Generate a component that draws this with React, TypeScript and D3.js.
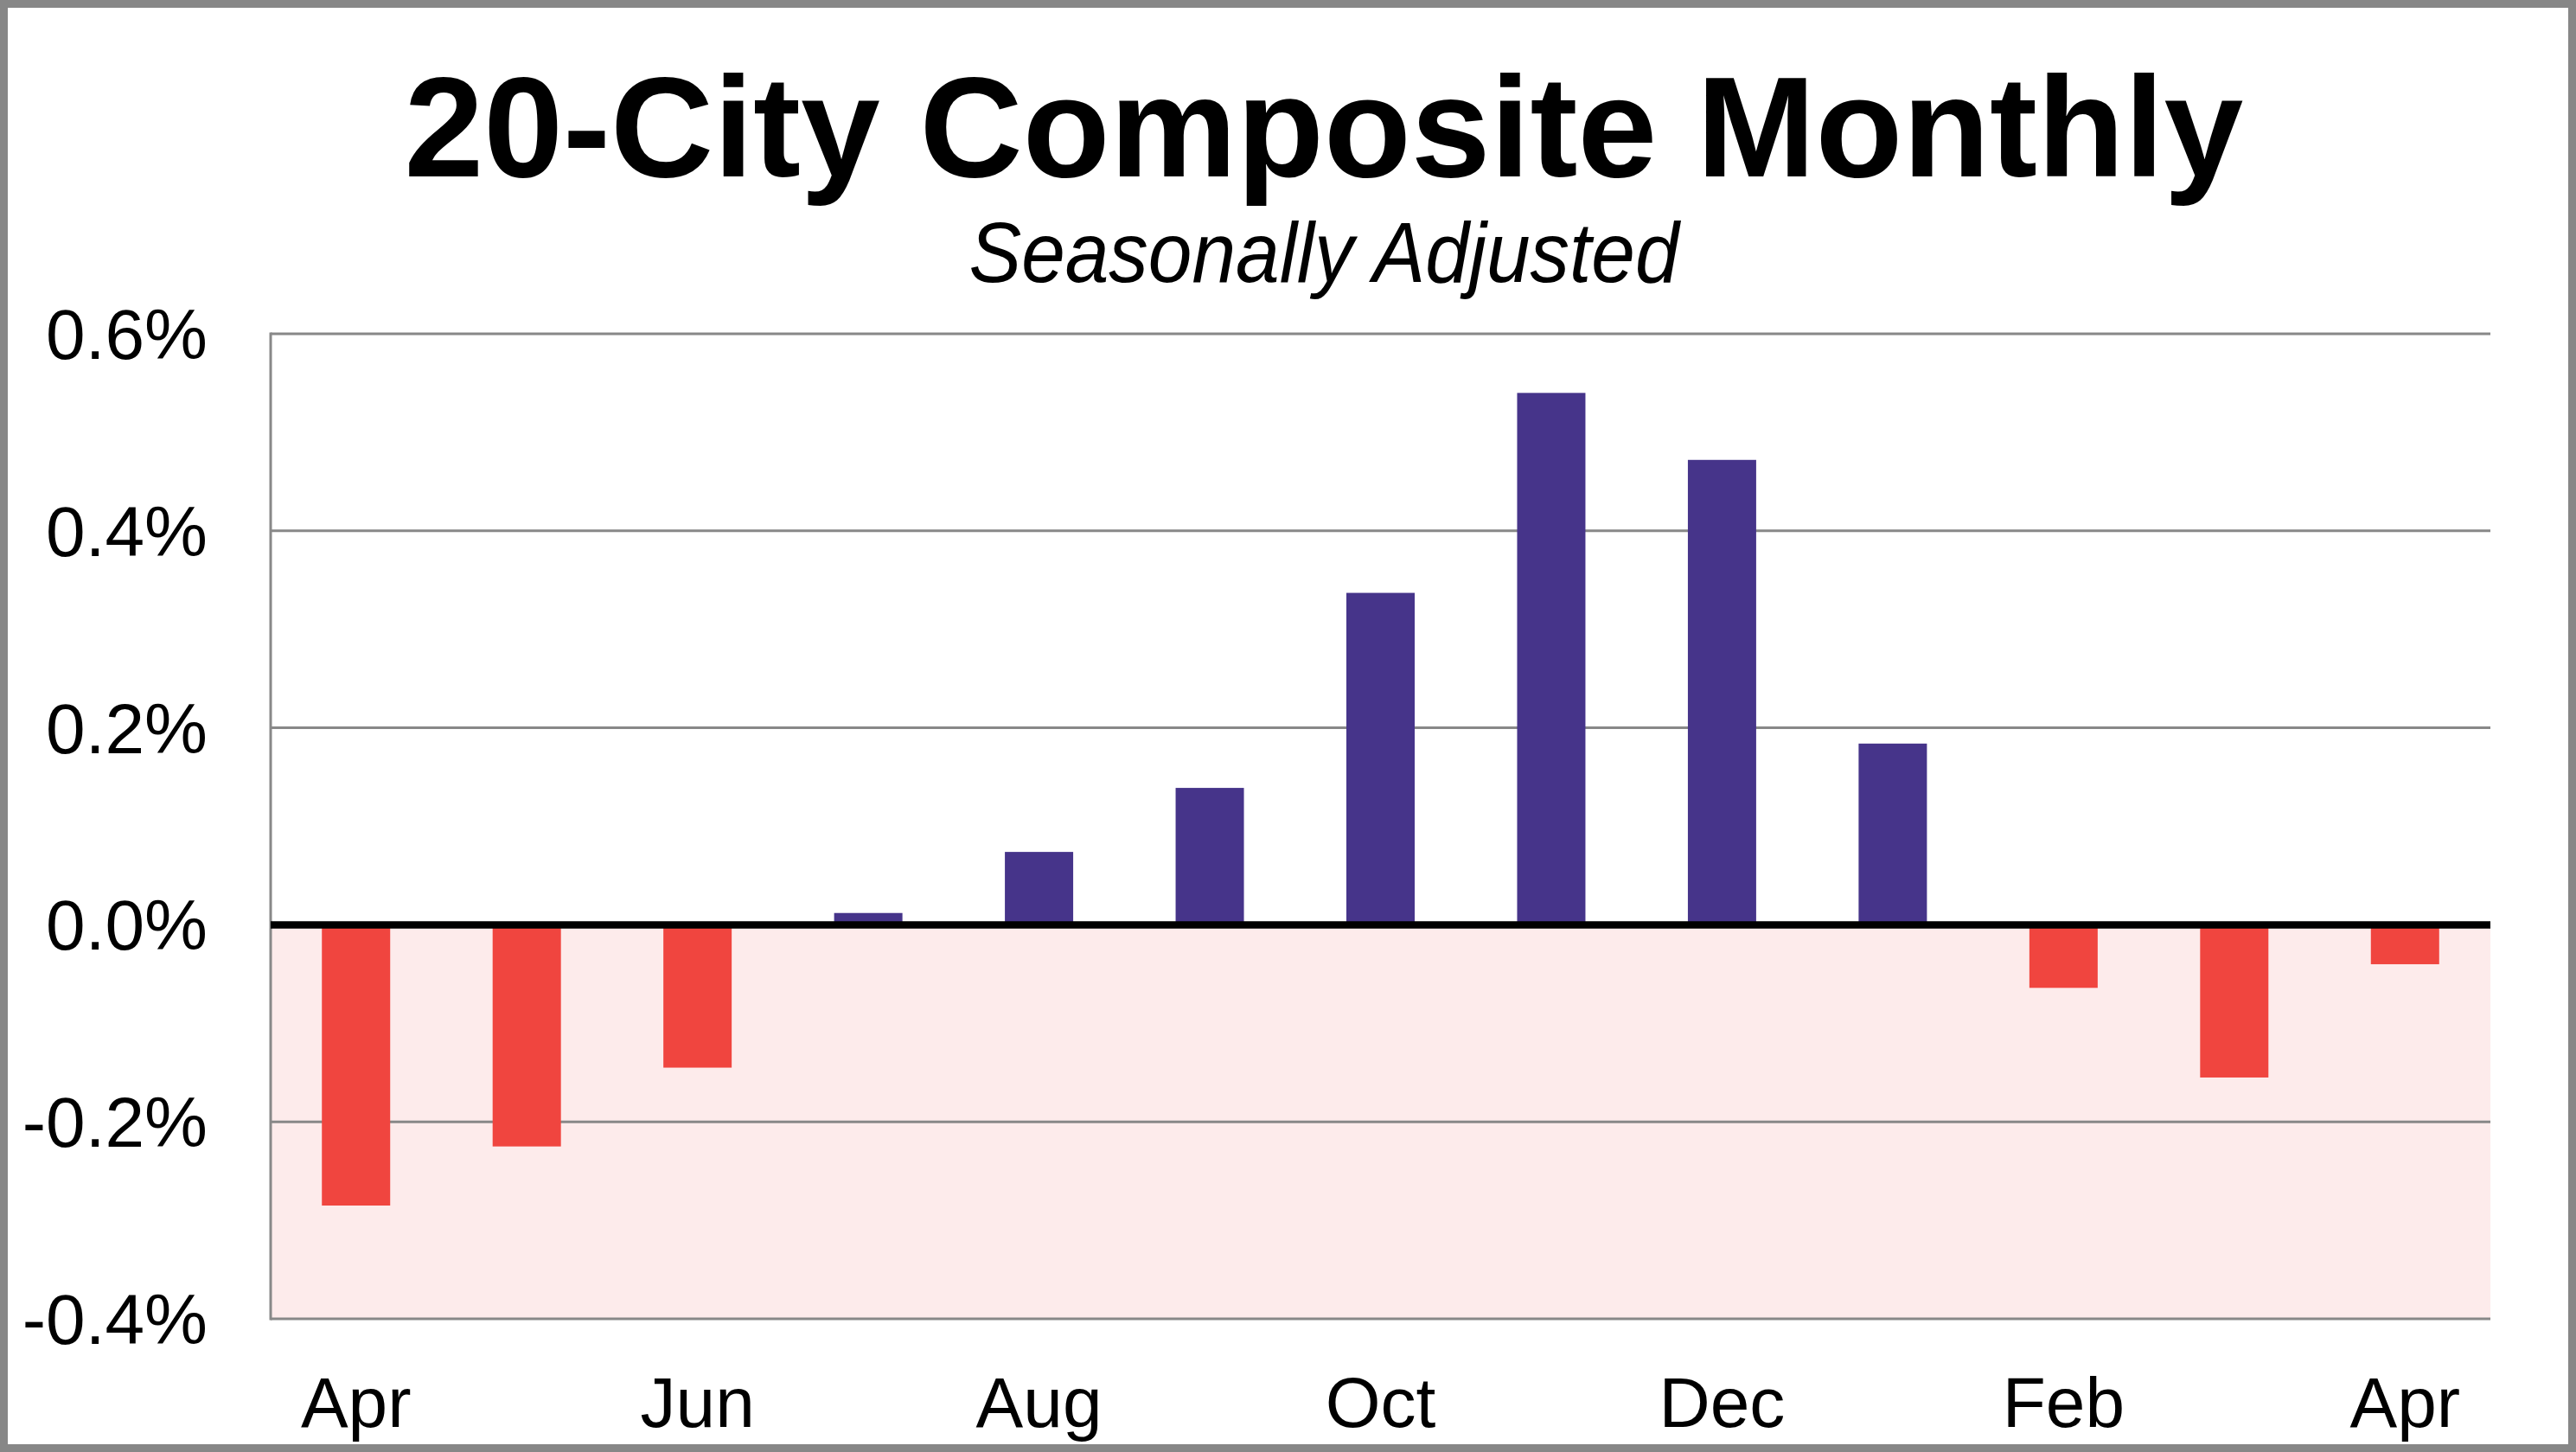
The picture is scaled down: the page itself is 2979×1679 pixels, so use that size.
import React, { useEffect } from "react";
import * as d3 from "d3";

const months = ["Apr", "May", "Jun", "Jul", "Aug", "Sep", "Oct", "Nov", "Dec", "Jan", "Feb", "Mar", "Apr"];
const values = [-0.285, -0.225, -0.145, 0.012, 0.074, 0.139, 0.337, 0.540, 0.472, 0.184, -0.064, -0.155, -0.040];
const shownLabels = [true, false, true, false, true, false, true, false, true, false, true, false, true];
const yTicks = [-0.4, -0.2, 0.0, 0.2, 0.4, 0.6];

const titleText = "20-City Composite Monthly";
const subtitleText = "Seasonally Adjusted";

const W = 2979;
const H = 1679;
const FONT = "'Liberation Sans', Arial, Helvetica, sans-serif";

const fmt = (t: number) => d3.format(".1f")(t).replace("\u2212", "-") + "%";

export default function App() {
  useEffect(() => {
    document.body.style.margin = "0";
  }, []);

  const left = 313;
  const right = 2880;
  const top = 386;
  const bottom = 1525;

  const x = d3
    .scaleBand<number>()
    .domain(months.map((_, i) => i))
    .range([left, right])
    .paddingInner(0.6)
    .paddingOuter(0.3);

  const y = d3.scaleLinear().domain([-0.4, 0.6]).range([bottom, top]);
  const y0 = y(0);

  return (
    <svg
      width={W}
      height={H}
      viewBox={`0 0 ${W} ${H}`}
      style={{ position: "absolute", left: 0, top: 0, display: "block" }}
    >
      <rect x={4.5} y={4.5} width={W - 9} height={H - 9} fill="#ffffff" stroke="#878787" strokeWidth={9} />

      <text
        x={1531}
        y={204}
        textAnchor="middle"
        fontFamily={FONT}
        fontWeight="bold"
        fontSize={165}
        fill="#000"
      >
        {titleText}
      </text>
      <text
        x={1531}
        y={326}
        textAnchor="middle"
        fontFamily={FONT}
        fontStyle="italic"
        fontSize={98}
        textLength={821}
        lengthAdjust="spacingAndGlyphs"
        fill="#000"
      >
        {subtitleText}
      </text>

      {/* negative zone shading */}
      <rect x={left} y={y0} width={right - left} height={bottom - y0} fill="#FDEBEB" />

      {/* gridlines */}
      {yTicks.map((t) => (
        <line
          key={"g" + t}
          x1={left}
          x2={right}
          y1={y(t)}
          y2={y(t)}
          stroke="#888888"
          strokeWidth={3}
        />
      ))}

      {/* left axis */}
      <line x1={left} x2={left} y1={top - 1.5} y2={bottom + 1.5} stroke="#888888" strokeWidth={3} />

      {/* bars */}
      {values.map((v, i) => {
        const yy = v >= 0 ? y(v) : y0;
        const hh = Math.abs(y(v) - y0);
        return (
          <rect
            key={"b" + i}
            x={x(i)}
            y={yy}
            width={x.bandwidth()}
            height={hh}
            fill={v >= 0 ? "#46348A" : "#F0453F"}
          />
        );
      })}

      {/* zero line */}
      <line x1={left} x2={right} y1={y0} y2={y0} stroke="#000000" strokeWidth={8.5} />

      {/* y tick labels */}
      {yTicks.map((t) => (
        <text
          key={"yl" + t}
          x={240}
          y={y(t) + 29}
          textAnchor="end"
          fontFamily={FONT}
          fontSize={82}
          fill="#000"
        >
          {fmt(t)}
        </text>
      ))}

      {/* x labels */}
      {months.map((m, i) =>
        shownLabels[i] ? (
          <text
            key={"xl" + i}
            x={(x(i) as number) + x.bandwidth() / 2}
            y={1650}
            textAnchor="middle"
            fontFamily={FONT}
            fontSize={82}
            fill="#000"
          >
            {m}
          </text>
        ) : null
      )}
    </svg>
  );
}
